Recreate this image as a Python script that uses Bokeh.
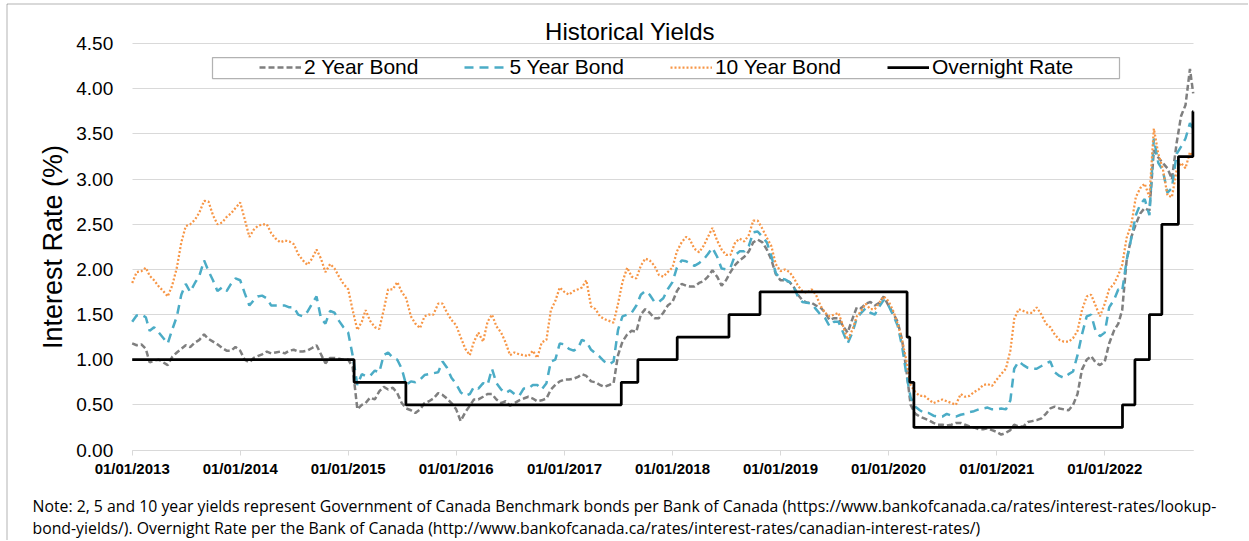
import pandas as pd
from bokeh.plotting import figure
from bokeh.models import (Range1d, FixedTicker, DatetimeTickFormatter, PrintfTickFormatter,
                          Legend, LegendItem, Label, BoxAnnotation)
from bokeh.embed import file_html
from bokeh.resources import INLINE

# ---------------- data ----------------
title_text = "Historical Yields"
y_label = "Interest Rate (%)"
series_names = ["2 Year Bond", "5 Year Bond", "10 Year Bond", "Overnight Rate"]
note_lines = [
    "Note: 2, 5 and 10 year yields represent Government of Canada Benchmark bonds per Bank of Canada (https://www.bankofcanada.ca/rates/interest-rates/lookup-",
    "bond-yields/). Overnight Rate per the Bank of Canada (http://www.bankofcanada.ca/rates/interest-rates/canadian-interest-rates/)",
]
year_ticks = ["2013-01-01", "2014-01-01", "2015-01-01", "2016-01-01", "2017-01-01",
              "2018-01-01", "2019-01-01", "2020-01-01", "2021-01-01", "2022-01-01"]
y_ticks = [0.0, 0.5, 1.0, 1.5, 2.0, 2.5, 3.0, 3.5, 4.0, 4.5]
x_start, x_end = "2013-01-01", "2022-10-28"

# semi-monthly sampling dates (1st and 16th of each month)
bond_dates = [f"{y}-{m:02d}-{d:02d}" for y in range(2013, 2023) for m in range(1, 13)
              for d in (1, 16) if (y, m) <= (2022, 10)] + ["2022-10-27"]

two_year = [
    1.18, 1.16, 1.17, 1.12, 0.97, 0.99, 1.00, 0.97, 0.94, 1.03, 1.08, 1.12, 1.16, 1.14, 1.19, 1.22, 1.28, 1.23, 1.20, 1.17, 1.13, 1.10, 1.10, 1.14,
    1.10, 1.00, 0.97, 1.02, 1.04, 1.06, 1.09, 1.07, 1.08, 1.09, 1.07, 1.10, 1.11, 1.09, 1.09, 1.10, 1.13, 1.16, 1.06, 0.96, 1.02, 1.02, 1.01, 1.00,
    1.00, 0.92, 0.45, 0.50, 0.52, 0.58, 0.56, 0.65, 0.70, 0.67, 0.69, 0.63, 0.52, 0.46, 0.44, 0.41, 0.45, 0.52, 0.54, 0.57, 0.63, 0.61, 0.57, 0.52,
    0.45, 0.32, 0.42, 0.49, 0.56, 0.56, 0.59, 0.62, 0.62, 0.56, 0.52, 0.54, 0.49, 0.52, 0.55, 0.57, 0.59, 0.57, 0.54, 0.55, 0.57, 0.67, 0.72, 0.76,
    0.78, 0.78, 0.79, 0.81, 0.84, 0.82, 0.76, 0.75, 0.72, 0.70, 0.72, 0.74, 1.05, 1.20, 1.28, 1.32, 1.31, 1.50, 1.56, 1.52, 1.46, 1.46, 1.52, 1.60,
    1.64, 1.76, 1.84, 1.82, 1.81, 1.81, 1.85, 1.87, 1.92, 1.99, 1.92, 1.82, 1.88, 1.97, 2.05, 2.10, 2.14, 2.20, 2.30, 2.33, 2.30, 2.22, 2.11, 1.95,
    1.88, 1.88, 1.86, 1.80, 1.72, 1.66, 1.63, 1.63, 1.60, 1.58, 1.52, 1.44, 1.46, 1.46, 1.37, 1.30, 1.45, 1.58, 1.57, 1.62, 1.64, 1.60, 1.63, 1.70,
    1.60, 1.52, 1.42, 1.22, 0.90, 0.50, 0.40, 0.37, 0.35, 0.33, 0.30, 0.28, 0.28, 0.27, 0.28, 0.30, 0.30, 0.28, 0.26, 0.25, 0.23, 0.23, 0.24, 0.22,
    0.20, 0.17, 0.19, 0.22, 0.28, 0.26, 0.26, 0.31, 0.32, 0.33, 0.35, 0.40, 0.46, 0.48, 0.46, 0.45, 0.44, 0.50, 0.62, 0.89, 1.00, 1.04, 0.97, 0.94,
    0.98, 1.18, 1.32, 1.40, 1.55, 2.10, 2.36, 2.50, 2.62, 2.68, 2.65, 3.32, 3.24, 3.18, 3.12, 3.00, 3.40, 3.70, 3.82, 4.22, 3.95,
]

five_year = [
    1.42, 1.49, 1.50, 1.47, 1.32, 1.36, 1.30, 1.24, 1.18, 1.33, 1.48, 1.72, 1.84, 1.75, 1.85, 1.93, 2.10, 1.98, 1.88, 1.76, 1.80, 1.76, 1.84, 1.90,
    1.88, 1.74, 1.60, 1.66, 1.70, 1.71, 1.68, 1.60, 1.60, 1.60, 1.60, 1.58, 1.58, 1.50, 1.48, 1.53, 1.62, 1.70, 1.46, 1.40, 1.54, 1.52, 1.43, 1.36,
    1.30, 1.05, 0.72, 0.84, 0.82, 0.82, 0.88, 0.86, 1.05, 1.08, 1.02, 1.00, 0.90, 0.72, 0.76, 0.75, 0.78, 0.83, 0.84, 0.85, 0.86, 0.98, 0.91, 0.80,
    0.73, 0.64, 0.60, 0.62, 0.70, 0.68, 0.74, 0.72, 0.90, 0.74, 0.67, 0.63, 0.66, 0.62, 0.60, 0.68, 0.68, 0.72, 0.72, 0.67, 0.74, 0.98, 1.00, 1.18,
    1.17, 1.12, 1.10, 1.13, 1.22, 1.20, 1.11, 1.07, 1.03, 0.98, 0.95, 0.98, 1.33, 1.48, 1.50, 1.52, 1.60, 1.72, 1.76, 1.72, 1.64, 1.64, 1.68, 1.78,
    1.86, 2.02, 2.10, 2.09, 2.07, 2.04, 2.07, 2.11, 2.17, 2.24, 2.14, 2.01, 2.00, 2.02, 2.16, 2.20, 2.20, 2.26, 2.41, 2.42, 2.36, 2.30, 2.15, 1.96,
    1.90, 1.89, 1.86, 1.80, 1.70, 1.64, 1.63, 1.62, 1.56, 1.50, 1.46, 1.37, 1.42, 1.42, 1.30, 1.18, 1.30, 1.46, 1.52, 1.57, 1.52, 1.50, 1.59, 1.66,
    1.60, 1.50, 1.38, 1.15, 0.85, 0.58, 0.48, 0.44, 0.41, 0.41, 0.38, 0.37, 0.37, 0.40, 0.38, 0.37, 0.39, 0.40, 0.42, 0.43, 0.45, 0.46, 0.47, 0.45,
    0.45, 0.46, 0.45, 0.55, 0.90, 0.98, 0.94, 0.91, 0.90, 0.90, 0.93, 0.96, 0.98, 0.86, 0.82, 0.80, 0.84, 0.87, 1.05, 1.28, 1.48, 1.50, 1.32, 1.26,
    1.30, 1.58, 1.66, 1.78, 1.76, 2.10, 2.35, 2.60, 2.72, 2.78, 2.60, 3.45, 3.18, 3.10, 2.85, 2.90, 3.28, 3.36, 3.45, 3.62, 3.55,
]

ten_year = [
    1.85, 1.97, 1.98, 2.02, 1.93, 1.88, 1.81, 1.76, 1.70, 1.82, 2.02, 2.30, 2.48, 2.50, 2.55, 2.63, 2.76, 2.75, 2.60, 2.50, 2.52, 2.58, 2.62, 2.68,
    2.74, 2.56, 2.36, 2.44, 2.48, 2.50, 2.50, 2.40, 2.34, 2.30, 2.32, 2.31, 2.28, 2.17, 2.10, 2.05, 2.12, 2.22, 2.12, 1.97, 2.06, 2.01, 1.92, 1.84,
    1.78, 1.55, 1.33, 1.42, 1.55, 1.43, 1.36, 1.34, 1.55, 1.78, 1.78, 1.86, 1.75, 1.68, 1.48, 1.40, 1.35, 1.48, 1.50, 1.50, 1.62, 1.62, 1.52, 1.44,
    1.38, 1.25, 1.12, 1.05, 1.20, 1.30, 1.20, 1.42, 1.50, 1.37, 1.30, 1.19, 1.05, 1.08, 1.06, 1.05, 1.04, 1.10, 1.02, 1.19, 1.22, 1.55, 1.65, 1.80,
    1.75, 1.72, 1.76, 1.78, 1.80, 1.88, 1.59, 1.56, 1.48, 1.45, 1.43, 1.41, 1.62, 1.86, 2.02, 1.92, 1.90, 2.04, 2.12, 2.10, 2.04, 1.94, 1.92, 1.97,
    2.02, 2.20, 2.30, 2.36, 2.33, 2.23, 2.19, 2.26, 2.36, 2.46, 2.32, 2.22, 2.16, 2.16, 2.30, 2.34, 2.31, 2.38, 2.54, 2.54, 2.45, 2.35, 2.26, 2.06,
    1.98, 2.00, 1.97, 1.90, 1.82, 1.76, 1.74, 1.78, 1.72, 1.60, 1.52, 1.48, 1.50, 1.52, 1.37, 1.22, 1.33, 1.48, 1.54, 1.62, 1.56, 1.56, 1.63, 1.70,
    1.65, 1.55, 1.40, 1.22, 1.00, 0.72, 0.64, 0.60, 0.60, 0.56, 0.52, 0.54, 0.56, 0.54, 0.52, 0.50, 0.62, 0.59, 0.60, 0.64, 0.67, 0.72, 0.73, 0.71,
    0.78, 0.84, 0.90, 1.10, 1.45, 1.56, 1.54, 1.52, 1.52, 1.58, 1.50, 1.40, 1.36, 1.28, 1.22, 1.20, 1.20, 1.24, 1.32, 1.55, 1.70, 1.72, 1.60, 1.48,
    1.62, 1.78, 1.84, 1.94, 2.05, 2.35, 2.50, 2.80, 2.90, 2.95, 2.80, 3.56, 3.28, 3.12, 2.82, 2.80, 3.10, 3.18, 3.12, 3.30, 3.24,
]

overnight_dates = ["2013-01-01", "2015-01-21", "2015-07-15", "2017-07-12", "2017-09-06", "2018-01-17",
                   "2018-07-11", "2018-10-24", "2020-03-04", "2020-03-13", "2020-03-27", "2022-03-02",
                   "2022-04-13", "2022-06-01", "2022-07-13", "2022-09-07", "2022-10-26", "2022-10-27"]
overnight_rate = [1.00, 0.75, 0.50, 0.75, 1.00, 1.25, 1.50, 1.75, 1.25, 0.75, 0.25, 0.50,
                  1.00, 1.50, 2.50, 3.25, 3.75, 3.75]

# ---------------- layout (pixels on the canvas) ----------------
FONT = "Liberation Sans"
W, H = 1248, 540
PX_X0, PX_X1 = 131.7, 1193.0      # canvas columns of x_start / x_end
PX_Y0, PX_YT = 449.5, 43.2        # canvas rows of y = 0 and y = 4.5
Y_TOP = 4.5

def ms(s):
    return float(pd.Timestamp(s).value // 10**6)

ms0, ms1 = ms(x_start), ms(x_end)
kx = (ms1 - ms0) / (PX_X1 - PX_X0)
ky = Y_TOP / (PX_Y0 - PX_YT)

def sy(row):        # canvas row -> screen units (frame covers whole canvas, y up)
    return H - row

p = figure(width=W, height=H, x_axis_type="datetime", title=None,
           output_backend="svg", toolbar_location=None,
           x_range=Range1d(ms0 - PX_X0 * kx, ms1 + (W - PX_X1) * kx),
           y_range=Range1d(-(H - PX_Y0) * ky, Y_TOP + PX_YT * ky),
           min_border=0, min_border_left=0, min_border_right=0,
           min_border_top=0, min_border_bottom=0)
p.outline_line_color = None
p.background_fill_color = "white"
p.border_fill_color = "white"

x_b = pd.to_datetime(bond_dates)
r2 = p.line(x_b, two_year, line_color="#7f7f7f", line_width=2.5, line_dash="6 3")
r5 = p.line(x_b, five_year, line_color="#4bacc6", line_width=2.5, line_dash="9 6")
r10 = p.line(x_b, ten_year, line_color="#f79646", line_width=2.25, line_dash="2 2")
ron = p.step(pd.to_datetime(overnight_dates), overnight_rate, mode="after",
             line_color="black", line_width=2.75)

# y axis (placed at the first date, inside the full-canvas frame)
yax = p.yaxis[0]
yax.fixed_location = ms0
yax.bounds = (0, Y_TOP)
yax.ticker = FixedTicker(ticks=y_ticks)
yax.formatter = PrintfTickFormatter(format="%.2f")
yax.axis_line_color = None
yax.major_tick_line_color = None
yax.minor_tick_line_color = None
yax.major_tick_out = 0
yax.major_tick_in = 0
yax.major_label_standoff = 19
yax.major_label_text_font = FONT
yax.major_label_text_font_size = "19px"
yax.major_label_text_color = "black"
yax.axis_label = y_label
yax.axis_label_text_font = FONT
yax.axis_label_text_font_size = "27px"
yax.axis_label_text_font_style = "normal"
yax.axis_label_text_color = "black"
yax.axis_label_standoff = 6

# x axis (placed at y = 0)
xax = p.xaxis[0]
xax.fixed_location = 0
xax.bounds = (ms0, ms1)
xax.ticker = FixedTicker(ticks=[ms(t) for t in year_ticks])
fmt = "%m/%d/%Y"
xax.formatter = DatetimeTickFormatter(microseconds=fmt, milliseconds=fmt, seconds=fmt, minsec=fmt,
                                      minutes=fmt, hourmin=fmt, hours=fmt, days=fmt,
                                      months=fmt, years=fmt)
xax.axis_line_color = "#d9d9d9"
xax.major_tick_line_color = "#d9d9d9"
xax.minor_tick_line_color = None
xax.major_tick_out = 5
xax.major_tick_in = 0
xax.major_label_standoff = 5
xax.major_label_text_font = FONT
xax.major_label_text_font_size = "15px"
xax.major_label_text_font_style = "bold"
xax.major_label_text_color = "black"

p.xgrid.grid_line_color = None
yg = p.ygrid[0]
yg.grid_line_color = "#d9d9d9"
yg.grid_line_width = 1
try:
    yg.cross_bounds = (ms0, ms1)
except AttributeError:
    yg.grid_line_color = None
    p.segment(x0=[pd.Timestamp(x_start)] * len(y_ticks), x1=[pd.Timestamp(x_end)] * len(y_ticks),
              y0=y_ticks, y1=y_ticks, line_color="#d9d9d9", line_width=1, level="underlay")

# outer border (top & left edges)
p.add_layout(BoxAnnotation(left=6.5, right=W + 20, bottom=-20, top=sy(3.5),
                           left_units="screen", right_units="screen",
                           bottom_units="screen", top_units="screen",
                           fill_alpha=0, line_color="black", line_width=1))

# legend box + legend
p.add_layout(BoxAnnotation(left=212, right=1119, bottom=sy(78), top=sy(57),
                           left_units="screen", right_units="screen",
                           bottom_units="screen", top_units="screen",
                           fill_color="white", fill_alpha=1, line_color="black", line_width=1.25))
legend = Legend(items=[LegendItem(label=n, renderers=[r]) for n, r in zip(series_names, [r2, r5, r10, ron])],
                orientation="horizontal", location=(259, sy(79)),
                padding=0, margin=0, spacing=46, glyph_width=42, glyph_height=20,
                label_standoff=3, label_height=20,
                label_text_font=FONT, label_text_font_size="21px", label_text_color="black",
                border_line_color=None, background_fill_alpha=0)
p.add_layout(legend)

# title
p.add_layout(Label(x=629.5, y=sy(30.5), x_units="screen", y_units="screen",
                   text=title_text, text_align="center", text_baseline="middle",
                   text_font=FONT, text_font_size="24px", text_color="black"))

# note
for line, mid in zip(note_lines, [505, 527]):
    p.add_layout(Label(x=32, y=sy(mid), x_units="screen", y_units="screen",
                       text=line, text_align="left", text_baseline="middle",
                       text_font="Open Sans", text_font_size="15.8px", text_color="black"))

open("out.html", "w").write(file_html(p, INLINE))
